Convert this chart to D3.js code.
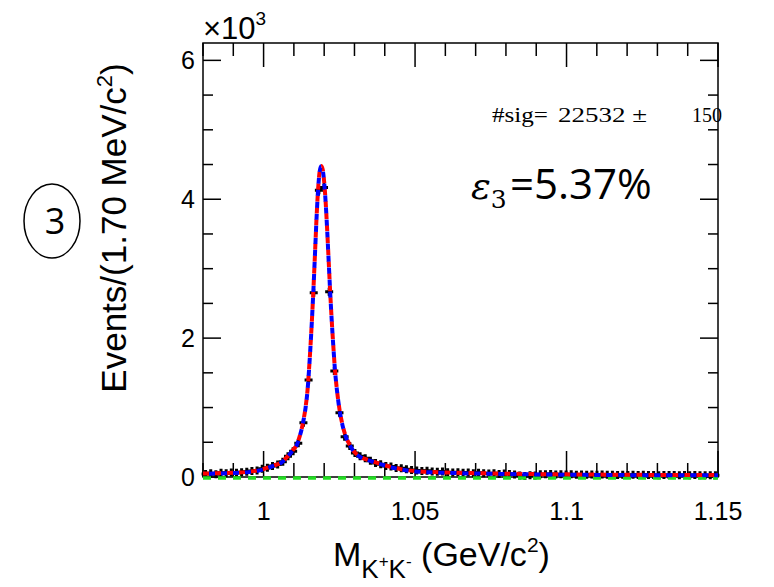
<!DOCTYPE html>
<html>
<head>
<meta charset="utf-8">
<script src="https://cdn.jsdelivr.net/npm/d3@7"></script>
<style>
	body { margin: 0; background: #fff; }
	svg { display: block; }
</style>
</head>
<body>
<svg id="chart"></svg>
<script>
// histogram: 100 bins of 1.70 MeV/c2 from 0.98 to 1.15 GeV/c2
const binStart = 0.98
const binWidth = 0.0017
const eventCounts = [
	45, 55, 40, 60, 55, 65, 60, 70, 75, 85,
	95, 120, 135, 160, 180, 220, 300, 370, 485, 781,
	1396, 2652, 4130, 4168, 2666, 1525, 925, 580, 446, 345,
	300, 270, 235, 200, 185, 160, 150, 130, 125, 110,
	100, 95, 85, 90, 80, 75, 80, 70, 65, 70,
	60, 65, 55, 60, 55, 50, 55, 45, 50, 45,
	35, 20, 15, 25, 20, 40, 38, 42, 36, 40,
	35, 38, 34, 37, 33, 36, 32, 35, 31, 34,
	30, 33, 30, 32, 29, 31, 28, 30, 27, 30,
	28, 29, 27, 28, 26, 28, 25, 27, 26, 25
]

// fit curves
const fitMass = [0.98, 0.985, 0.99, 0.995, 1.000, 1.003, 1.006, 1.008, 1.0095, 1.011,
	1.012, 1.013, 1.014, 1.0145, 1.015, 1.0155, 1.016, 1.0165, 1.017, 1.0175,
	1.018, 1.0185, 1.019, 1.0195, 1.020, 1.0205, 1.021, 1.0215, 1.022, 1.0225,
	1.023, 1.0235, 1.024, 1.0245, 1.025, 1.026, 1.027, 1.0285, 1.030, 1.032,
	1.035, 1.040, 1.045, 1.050, 1.055, 1.060, 1.070, 1.080, 1.090, 1.100,
	1.120, 1.150]
const fitTotal = [50, 55, 62, 75, 115, 160, 215, 300, 380, 470,
	600, 780, 1050, 1250, 1550, 1900, 2300, 2750, 3250, 3750,
	4150, 4400, 4480, 4430, 4250, 3950, 3550, 3100, 2650, 2250,
	1900, 1580, 1340, 1150, 990, 760, 600, 460, 360, 290,
	240, 170, 115, 85, 72, 65, 55, 48, 42, 38,
	32, 28]
const fitSignal = [45, 50, 57, 70, 110, 155, 210, 295, 375, 465,
	595, 775, 1045, 1245, 1545, 1895, 2295, 2745, 3245, 3745,
	4145, 4395, 4475, 4425, 4245, 3945, 3545, 3095, 2645, 2245,
	1895, 1575, 1335, 1145, 985, 755, 595, 455, 355, 285,
	235, 165, 110, 80, 67, 60, 50, 43, 37, 33,
	27, 24]
const bgMass = [0.98, 1.15]
const bgValues = [0, 0]

const xTicks = [1, 1.05, 1.1, 1.15]
const xTickLabels = ['1', '1.05', '1.1', '1.15']
const yTicks = [0, 2000, 4000, 6000]
const yTickLabels = ['0', '2', '4', '6']

const outerWidth = 774
const outerHeight = 587
const plot = {left: 203, right: 718, top: 43, bottom: 477}

const svg = d3.select('#chart')
	.attr('width', outerWidth)
	.attr('height', outerHeight)
	.attr('font-family', 'Liberation Sans, Arial, sans-serif')

const xScale = d3.scaleLinear()
	.domain([0.98, 1.15])
	.range([plot.left, plot.right])
const yScale = d3.scaleLinear()
	.domain([0, 6250])
	.range([plot.bottom, plot.top])

// frame
svg.append('rect')
	.attr('x', plot.left)
	.attr('y', plot.top)
	.attr('width', plot.right - plot.left)
	.attr('height', plot.bottom - plot.top)
	.attr('fill', 'none')
	.attr('stroke', '#000')
	.attr('stroke-width', 1.5)

// ticks on all four sides
const xMinor = d3.range(0, 18).map(i => +(0.98 + i * 0.01).toFixed(2))
const yMinor = d3.range(0, 13).map(i => i * 500)
const isMajorX = v => xTicks.some(t => Math.abs(t - v) < 1e-6)
const isMajorY = v => yTicks.includes(v)

const ticks = svg.append('g').attr('stroke', '#000').attr('stroke-width', 1.5)
ticks.selectAll('.xb')
	.data(xMinor)
	.join('line')
	.attr('class', 'xb')
	.attr('x1', d => xScale(d)).attr('x2', d => xScale(d))
	.attr('y1', plot.bottom).attr('y2', d => plot.bottom - (isMajorX(d) ? 26 : 14))
ticks.selectAll('.xt')
	.data(xMinor)
	.join('line')
	.attr('class', 'xt')
	.attr('x1', d => xScale(d)).attr('x2', d => xScale(d))
	.attr('y1', plot.top).attr('y2', d => plot.top + (isMajorX(d) ? 24 : 13))
ticks.selectAll('.yl')
	.data(yMinor)
	.join('line')
	.attr('class', 'yl')
	.attr('y1', d => yScale(d)).attr('y2', d => yScale(d))
	.attr('x1', plot.left).attr('x2', d => plot.left + (isMajorY(d) ? 18 : 10))
ticks.selectAll('.yr')
	.data(yMinor)
	.join('line')
	.attr('class', 'yr')
	.attr('y1', d => yScale(d)).attr('y2', d => yScale(d))
	.attr('x1', plot.right).attr('x2', d => plot.right - (isMajorY(d) ? 18 : 10))

// tick labels
svg.append('g').selectAll('text')
	.data(xTicks)
	.join('text')
	.attr('x', d => xScale(d))
	.attr('y', 520)
	.attr('text-anchor', 'middle')
	.attr('font-size', 25)
	.text((d, i) => xTickLabels[i])
svg.append('g').selectAll('text')
	.data(yTicks)
	.join('text')
	.attr('x', 195)
	.attr('y', d => yScale(d) + 9)
	.attr('text-anchor', 'end')
	.attr('font-size', 25)
	.text((d, i) => yTickLabels[i])

// x10^3
const expo = svg.append('text')
	.attr('x', 203)
	.attr('y', 39)
	.attr('font-size', 31)
expo.append('tspan').text('\u00d710')
expo.append('tspan').attr('font-size', 19).attr('dy', -14).text('3')

// axis titles
const yTitle = svg.append('text')
	.attr('transform', 'translate(126,228) rotate(-90)')
	.attr('text-anchor', 'middle')
	.attr('font-size', 35)
yTitle.append('tspan').text('Events/(1.70 MeV/c')
yTitle.append('tspan').attr('font-size', 22).attr('dy', -14).text('2')
yTitle.append('tspan').attr('dy', 14).text(')')

const xTitle = svg.append('text')
	.attr('x', 333)
	.attr('y', 566)
	.attr('font-size', 34)
xTitle.append('tspan').text('M')
xTitle.append('tspan').attr('font-size', 26).attr('dy', 12).text('K')
xTitle.append('tspan').attr('font-size', 17).attr('dy', -11).text('+')
xTitle.append('tspan').attr('font-size', 26).attr('dy', 11).text('K')
xTitle.append('tspan').attr('font-size', 17).attr('dy', -11).text('-')
xTitle.append('tspan').attr('dy', -1).text(' (GeV/c')
xTitle.append('tspan').attr('font-size', 21).attr('dy', -14).text('2')
xTitle.append('tspan').attr('dy', 14).text(')')

// data points
const bins = eventCounts.map((c, i) => ({m: binStart + (i + 0.5) * binWidth, c}))
const pts = svg.append('g').attr('stroke', '#000')
pts.selectAll('.ex')
	.data(bins)
	.join('line')
	.attr('class', 'ex')
	.attr('stroke-width', 1.5)
	.attr('x1', d => xScale(d.m - binWidth / 2))
	.attr('x2', d => xScale(d.m + binWidth / 2))
	.attr('y1', d => yScale(d.c)).attr('y2', d => yScale(d.c))
pts.selectAll('.ey')
	.data(bins)
	.join('line')
	.attr('class', 'ey')
	.attr('stroke-width', 2)
	.attr('x1', d => xScale(d.m)).attr('x2', d => xScale(d.m))
	.attr('y1', d => yScale(d.c + Math.sqrt(d.c)) - 1)
	.attr('y2', d => yScale(Math.max(0, d.c - Math.sqrt(d.c))) + 1)
pts.selectAll('.mk')
	.data(bins)
	.join('path')
	.attr('class', 'mk')
	.attr('stroke-width', 3)
	.attr('d', d => {
		const x = xScale(d.m), y = yScale(d.c)
		return `M${x - 4},${y}H${x + 4}M${x},${y - 4}V${y + 4}`
	})

// fit curves
const line = d3.line()
	.x(d => xScale(d[0]))
	.y(d => yScale(d[1]))
	.curve(d3.curveMonotoneX)

svg.append('path')
	.attr('d', line(bgMass.map((m, i) => [m, bgValues[i]])))
	.attr('transform', 'translate(0,1)')
	.attr('fill', 'none')
	.attr('stroke', '#22dd22')
	.attr('stroke-width', 3.5)
	.attr('stroke-dasharray', '8,7')
svg.append('path')
	.attr('d', line(fitMass.map((m, i) => [m, fitTotal[i]])))
	.attr('fill', 'none')
	.attr('stroke', '#ff0000')
	.attr('stroke-width', 4)
	.attr('stroke-dasharray', '6,6')
svg.append('path')
	.attr('d', line(fitMass.map((m, i) => [m, fitSignal[i]])))
	.attr('fill', 'none')
	.attr('stroke', '#0000ff')
	.attr('stroke-width', 4)
	.attr('stroke-dasharray', '6,6')
	.attr('stroke-dashoffset', 6)

// fit parameter box
const sig = svg.append('g')
	.attr('font-family', 'Liberation Serif, Times New Roman, serif')
	.attr('font-size', 20)
sig.append('text').attr('x', 492).attr('y', 122)
	.attr('textLength', 56).attr('lengthAdjust', 'spacingAndGlyphs').text('#sig=')
sig.append('text').attr('x', 558).attr('y', 122)
	.attr('textLength', 89).attr('lengthAdjust', 'spacingAndGlyphs').text('22532 \u00b1')
sig.append('text').attr('x', 692).attr('y', 122)
	.text('150')

// efficiency annotation
const eff = svg.append('text')
	.attr('y', 199)
eff.append('tspan')
	.attr('x', 471)
	.attr('font-family', 'DejaVu Serif, serif')
	.attr('font-style', 'italic')
	.attr('font-size', 37)
	.text('\u03b5')
eff.append('tspan')
	.attr('font-family', 'DejaVu Serif, serif')
	.attr('font-size', 25)
	.attr('dy', 9)
	.text('3')
eff.append('tspan')
	.attr('x', 510)
	.attr('font-family', 'Open Sans, sans-serif')
	.attr('font-size', 42)
	.attr('dy', -9)
	.text('=5.37%')

// circled panel number
svg.append('ellipse')
	.attr('cx', 52)
	.attr('cy', 221)
	.attr('rx', 28)
	.attr('ry', 37)
	.attr('fill', 'none')
	.attr('stroke', '#000')
	.attr('stroke-width', 1.5)
svg.append('text')
	.attr('x', 55)
	.attr('y', 234)
	.attr('text-anchor', 'middle')
	.attr('font-family', 'Open Sans, sans-serif')
	.attr('font-size', 36)
	.text('3')
</script>
</body>
</html>
